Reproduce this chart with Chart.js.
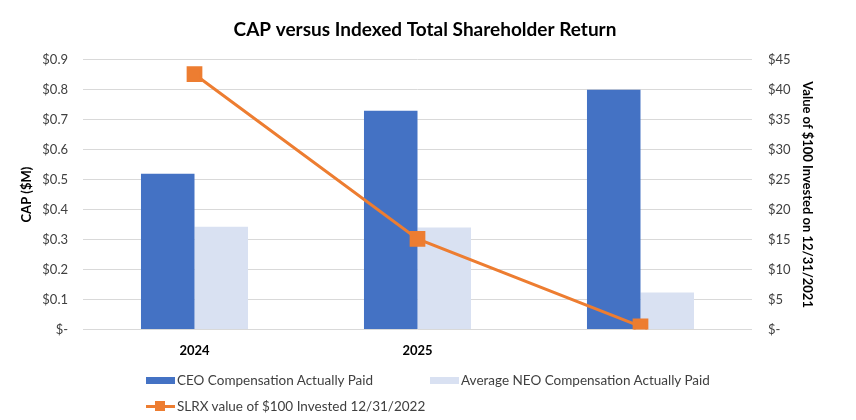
<!DOCTYPE html>
<html>
<head>
<meta charset="utf-8">
<script src="https://cdn.jsdelivr.net/npm/chart.js@4.4.1/dist/chart.umd.min.js"></script>
<style>
    body { margin: 0; background: #fff; }
    #wrap { position: relative; width: 856px; height: 420px; }
    #legend {
        position: absolute; left: 146px; top: 371px;
        display: grid; grid-template-columns: 284px 320px; row-gap: 8px;
        font-family: Lato, sans-serif; font-size: 13.5px; color: #404040;
    }
    .item { display: flex; align-items: center; height: 18px; white-space: nowrap; }
    .box { width: 29px; height: 7px; margin-right: 2px; flex: none; }
    .line { position: relative; width: 29px; height: 3px; margin-right: 2px; flex: none; }
    .line span { position: absolute; left: 9px; top: -4px; width: 10px; height: 10px; }
</style>
</head>
<body>
<div id="wrap">
    <canvas id="chartCap" width="856" height="420"></canvas>
    <div id="legend"></div>
</div>
<script>
const years = ['2024', '2025', ''];
const ceoCap = [0.52, 0.73, 0.80];
const neoCap = [0.343, 0.34, 0.123];
const slrxValue = [42.6, 15.1, 0.5];

const fontName = 'Lato, sans-serif';

function moneyLeft(v) {
    return v === 0 ? '$-' : '$' + v.toFixed(1)
}
function moneyRight(v) {
    return v === 0 ? '$-' : '$' + v
}

function renderLegend(chart) {
    const legend = document.querySelector('#legend');
    chart.data.datasets.forEach(ds => {
        const item = document.createElement('div');
        item.className = 'item';
        if (ds.type === 'line') {
            item.innerHTML = '<div class="line" style="background:' + ds.borderColor + '"><span style="background:' + ds.borderColor + '"></span></div>';
        } else {
            item.innerHTML = '<div class="box" style="background:' + ds.backgroundColor + '"></div>';
        }
        const txt = document.createElement('span');
        txt.textContent = ds.label;
        item.appendChild(txt);
        legend.appendChild(item);
    });
}

const ctx = document.querySelector('#chartCap').getContext('2d');
const chart = new Chart(ctx, {
    data: {
        labels: years,
        datasets: [{
            type: 'bar',
            label: 'CEO Compensation Actually Paid',
            data: ceoCap,
            backgroundColor: '#4472C4',
            yAxisID: 'y',
            order: 1
        }, {
            type: 'bar',
            label: 'Average NEO Compensation Actually Paid',
            data: neoCap,
            backgroundColor: '#D9E1F2',
            yAxisID: 'y',
            order: 1
        }, {
            type: 'line',
            label: 'SLRX value of $100 Invested 12/31/2022',
            data: slrxValue,
            borderColor: '#ED7D31',
            backgroundColor: '#ED7D31',
            borderWidth: 3,
            pointStyle: 'rect',
            pointRadius: 9,
            pointHoverRadius: 9,
            yAxisID: 'y1',
            order: 0
        }]
    },
    options: {
        responsive: false,
        animation: false,
        datasets: { bar: { barPercentage: 1, categoryPercentage: 0.48 } },
        layout: { padding: { left: 14, right: 20, top: 0, bottom: 55 } },
        plugins: {
            legend: { display: false },
            tooltip: { enabled: false },
            title: {
                display: true,
                text: 'CAP versus Indexed Total Shareholder Return',
                color: '#000',
                font: { family: fontName, size: 19, weight: 'bold' },
                padding: { top: 18, bottom: 19 }
            }
        },
        scales: {
            x: {
                grid: { display: false },
                border: { display: false },
                ticks: { color: '#000', font: { family: fontName, size: 13, weight: 'bold' }, padding: 6 }
            },
            y: {
                position: 'left',
                min: 0, max: 0.9,
                afterFit: scale => { scale.width = 69 },
                ticks: { stepSize: 0.1, callback: moneyLeft, color: '#404040', font: { family: fontName, size: 13 }, padding: 15 },
                grid: { color: '#D9D9D9', drawTicks: false },
                border: { display: false },
                title: { display: true, text: 'CAP ($M)', color: '#000', font: { family: fontName, size: 13, weight: 'bold' }, padding: { top: 5, bottom: 0 } }
            },
            y1: {
                position: 'right',
                min: 0, max: 45,
                afterFit: scale => { scale.width = 84 },
                ticks: { stepSize: 5, callback: moneyRight, color: '#404040', font: { family: fontName, size: 13 }, padding: 16 },
                grid: { drawOnChartArea: false, drawTicks: false },
                border: { display: false },
                title: { display: true, text: 'Value of $100 Invested on 12/31/2021', color: '#000', font: { family: fontName, size: 13, weight: 'bold' }, padding: { top: 21, bottom: 0 } }
            }
        }
    }
});
renderLegend(chart);
</script>
</body>
</html>
